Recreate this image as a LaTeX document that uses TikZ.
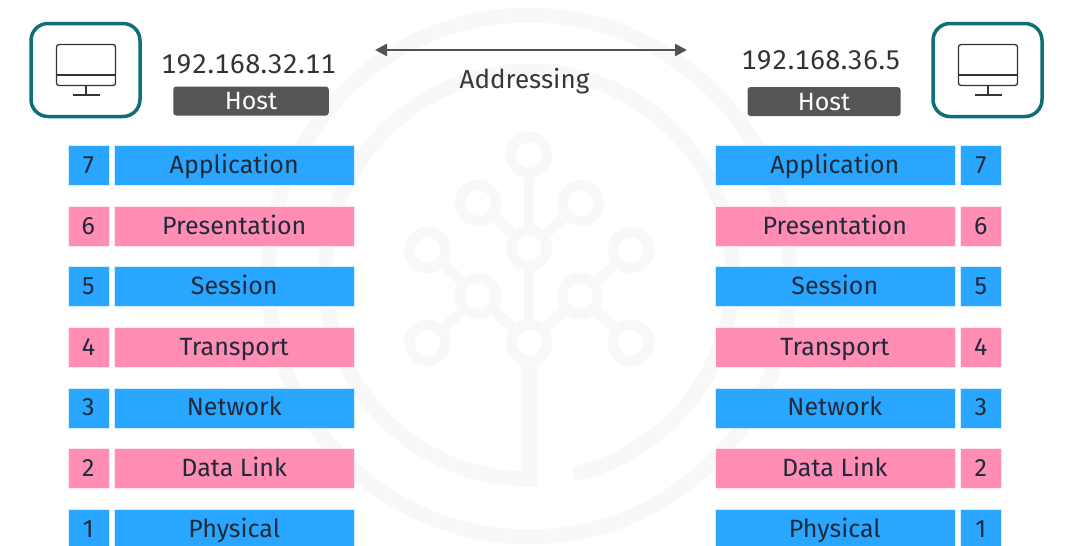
\documentclass[tikz,border=0pt]{standalone}
\usepackage{fontspec}
\usetikzlibrary{arrows.meta}
\setmainfont[Numbers=Lining]{Fira Sans}
\newfontfamily\ipfont[Numbers={Lining,Monospaced},LetterSpace=1.2]{Fira Sans}
\definecolor{wm}{HTML}{F8F8FA}
\definecolor{bluebar}{HTML}{29A6FF}
\definecolor{pinkbar}{HTML}{FF8DB4}
\definecolor{teal1}{HTML}{0E6F78}
\definecolor{ink}{HTML}{1E2A3A}
\definecolor{hostbg}{HTML}{555555}
\tikzset{
  bar/.style={draw=white!80!#1,line width=.6pt,fill=#1,text=ink,minimum height=40pt,text height=19pt,text depth=3pt,inner ysep=0pt,inner xsep=0pt,font=\fontsize{25}{28}\selectfont},
  numbox/.style={bar=#1,minimum width=41pt},
  layerbox/.style={bar=#1,minimum width=240pt},
  hostbox/.style={fill=hostbg,rounded corners=3pt,text=white,minimum height=29pt,text height=20pt,text depth=3pt,inner sep=0pt,font=\fontsize{25}{28}\selectfont},
  ipaddr/.style={text=black!80,inner sep=0pt,anchor=base,font=\ipfont\fontsize{27}{30}\selectfont},
  pcframe/.style={draw=teal1,line width=3.5pt,rounded corners=17pt,minimum width=109pt,minimum height=93pt},
  wmline/.style={draw=wm,line width=10.5pt},
  wmband/.style={draw=wm,line width=15pt},
  wmring/.style={draw=wm,line width=10.5pt,circle,minimum size=36pt,inner sep=0pt},
  monitor/.style={draw=black!80,line width=1.3pt}
}
\newcommand{\monitorat}[2]{%
  \draw[monitor,rounded corners=2.5pt] (#1-29.5,#2-20.5) rectangle (#1+29.5,#2+20.5);
  \draw[monitor] (#1-29.5,#2+10) -- (#1+29.5,#2+10);
  \draw[monitor] (#1,#2+20.5) -- (#1,#2+30);
  \draw[monitor] (#1-13.5,#2+30) -- (#1+13.5,#2+30);
}
\begin{document}
\begin{tikzpicture}[x=1pt,y=-1pt]
\useasboundingbox (0,0) rectangle (1066,546);
\clip (0,0) rectangle (1066,546);
% watermark
\draw[wmband] (529,276) circle (261);
\draw[wmband] (529,479) arc (90:437.5:204);
\node[wmring] (t1) at (529,155) {};
\node[wmring] (t2) at (478,203) {};
\node[wmring] (t3) at (581,203) {};
\node[wmring] (t4) at (529,248) {};
\node[wmring] (t5) at (427.5,250) {};
\node[wmring] (t6) at (631,250) {};
\node[wmring] (t7) at (478,296) {};
\node[wmring] (t8) at (580,296) {};
\node[wmring] (t9) at (427.5,343) {};
\node[wmring] (t10) at (631,343) {};
\node[wmring] (t11) at (529,343) {};
\coordinate (stemend) at (529,487);
\foreach \a/\b in {t1/t4,t2/t4,t3/t4,t4/t11,t5/t7,t9/t7,t6/t8,t10/t8,t7/t11,t8/t11}
  \draw[wmline] (\a) -- (\b);
\draw[draw=wm,line width=16pt] (t11) -- (stemend);
% hosts
\node[pcframe] (pcl) at (85.5,70) {};
\node[pcframe] (pcr) at (987.5,70) {};
\monitorat{86}{65}
\monitorat{988}{65}
\node[ipaddr] (ipl) at (248.5,73.5) {192.168.32.11};
\node[ipaddr] (ipr) at (821,69) {192.168.36.5};
\node[hostbox,minimum width=155.5pt] (hostl) at (251,101) {Host};
\node[hostbox,minimum width=153pt] (hostr) at (824,101.5) {Host};
\coordinate (al) at (375,50);
\coordinate (ar) at (687,50);
\draw[black!68,line width=2.5pt,{Triangle[length=12pt,width=12pt]}-{Triangle[length=12pt,width=12pt]}] (al) -- (ar);
\node[text=black!78,inner sep=0pt,anchor=base,font=\fontsize{26}{28}\selectfont] (addr) at (524.5,88.5) {Addressing};
% layers
\foreach \n/\name/\col [count=\i from 0] in {7/Application/bluebar,6/Presentation/pinkbar,5/Session/bluebar,4/Transport/pinkbar,3/Network/bluebar,2/Data Link/pinkbar,1/Physical/bluebar}{
  \pgfmathsetmacro{\yy}{165.5+60.6*\i}
  \node[numbox=\col] (ln\n) at (88.4,\yy) {\n};
  \node[layerbox=\col] (ll\n) at (234.2,\yy) {\name};
  \node[layerbox=\col] (rl\n) at (834.8,\yy) {\name};
  \node[numbox=\col] (rn\n) at (980.8,\yy) {\n};
}
\end{tikzpicture}
\end{document}
